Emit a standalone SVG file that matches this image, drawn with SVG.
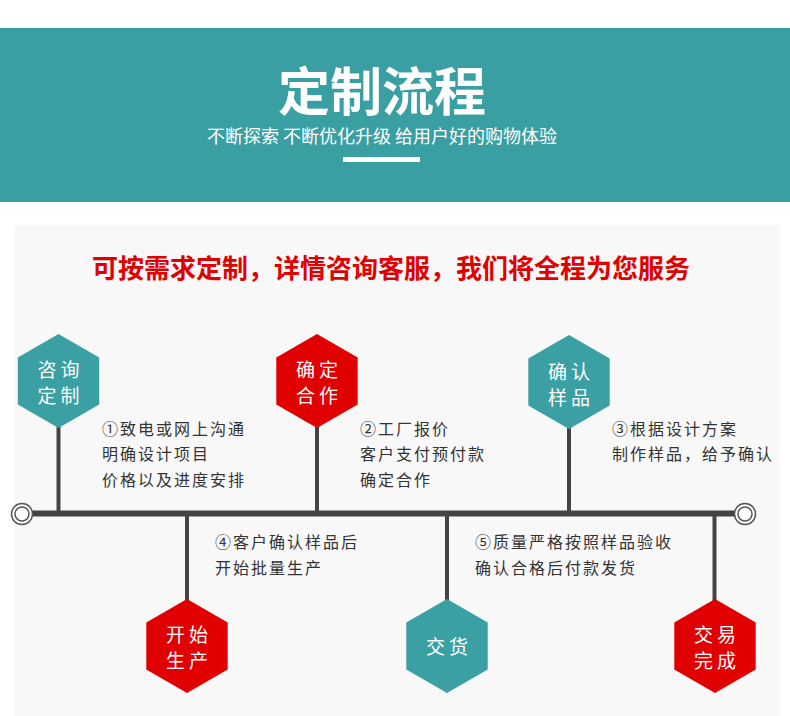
<svg xmlns="http://www.w3.org/2000/svg" width="790" height="716" viewBox="0 0 790 716">
<style>
.cjk{font-family:"Noto Sans CJK SC","Noto Sans",sans-serif}
.hexlbl{fill:#fff;font-size:19px;letter-spacing:4px;text-anchor:middle}
.desc{fill:#333;font-size:16px;letter-spacing:2px}
.stem{stroke:#444;stroke-width:4;fill:none}
.teal{fill:#3ba0a3}
.red{fill:#e00000}
.ring{fill:#fff;stroke:#555;stroke-width:1.5}
</style>
<defs>
<polygon id="hex" points="0,-47 40.7,-23.5 40.7,23.5 0,47 -40.7,23.5 -40.7,-23.5"/>
</defs>
<rect x="0" y="0" width="790" height="716" fill="#fff"/>
<g id="header">
<rect x="0" y="28" width="790" height="174" fill="#3a9fa3"/>
<text class="cjk" x="382" y="111" font-size="52" font-weight="700" fill="#fff" text-anchor="middle">定制流程</text>
<text class="cjk" x="382" y="143" font-size="18" fill="#fff" text-anchor="middle">不断探索 不断优化升级 给用户好的购物体验</text>
<rect x="343" y="157" width="77" height="5" fill="#fff"/>
</g>
<rect x="14" y="225" width="766" height="491" fill="#f8f8f8"/>
<text class="cjk" x="391" y="278" font-size="26" font-weight="700" fill="#e00000" text-anchor="middle">可按需求定制，详情咨询客服，我们将全程为您服务</text>
<g id="connectors">
<line x1="30" y1="513.5" x2="736" y2="513.5" stroke="#444" stroke-width="6"/>
<line class="stem" x1="58.5" y1="425" x2="58.5" y2="514"/>
<line class="stem" x1="317" y1="425" x2="317" y2="514"/>
<line class="stem" x1="569" y1="425" x2="569" y2="514"/>
<line class="stem" x1="187" y1="514" x2="187" y2="602"/>
<line class="stem" x1="447" y1="514" x2="447" y2="602"/>
<line class="stem" x1="714.5" y1="514" x2="714.5" y2="602"/>
<g id="end-left"><circle class="ring" cx="22" cy="514" r="10.5"/><circle class="ring" cx="22" cy="514" r="7"/></g>
<g id="end-right"><circle class="ring" cx="745" cy="514" r="10.5"/><circle class="ring" cx="745" cy="514" r="7"/></g>
</g>
<g id="node1">
<use href="#hex" class="teal" transform="translate(58.5,381)"/>
<text class="cjk hexlbl" x="60.5" y="377">咨询</text>
<text class="cjk hexlbl" x="60.5" y="403">定制</text>
</g>
<g id="node2">
<use href="#hex" class="red" transform="translate(317,381)"/>
<text class="cjk hexlbl" x="319" y="377">确定</text>
<text class="cjk hexlbl" x="319" y="403">合作</text>
</g>
<g id="node3">
<use href="#hex" class="teal" transform="translate(569,382)"/>
<text class="cjk hexlbl" x="571" y="379">确认</text>
<text class="cjk hexlbl" x="571" y="405">样品</text>
</g>
<g id="node4">
<use href="#hex" class="red" transform="translate(187,646)"/>
<text class="cjk hexlbl" x="189" y="642">开始</text>
<text class="cjk hexlbl" x="189" y="668">生产</text>
</g>
<g id="node5">
<use href="#hex" class="teal" transform="translate(447,646)"/>
<text class="cjk hexlbl" x="449" y="654">交货</text>
</g>
<g id="node6">
<use href="#hex" class="red" transform="translate(715,646)"/>
<text class="cjk hexlbl" x="717" y="642">交易</text>
<text class="cjk hexlbl" x="717" y="668">完成</text>
</g>
<g id="desc1" class="cjk desc">
<text x="102" y="435">①致电或网上沟通</text>
<text x="102" y="460">明确设计项目</text>
<text x="102" y="486">价格以及进度安排</text>
</g>
<g id="desc2" class="cjk desc">
<text x="360" y="435">②工厂报价</text>
<text x="360" y="460">客户支付预付款</text>
<text x="360" y="486">确定合作</text>
</g>
<g id="desc3" class="cjk desc">
<text x="612" y="435">③根据设计方案</text>
<text x="612" y="460">制作样品，给予确认</text>
</g>
<g id="desc4" class="cjk desc">
<text x="215" y="548">④客户确认样品后</text>
<text x="215" y="574">开始批量生产</text>
</g>
<g id="desc5" class="cjk desc">
<text x="475" y="548">⑤质量严格按照样品验收</text>
<text x="475" y="574">确认合格后付款发货</text>
</g>
</svg>
